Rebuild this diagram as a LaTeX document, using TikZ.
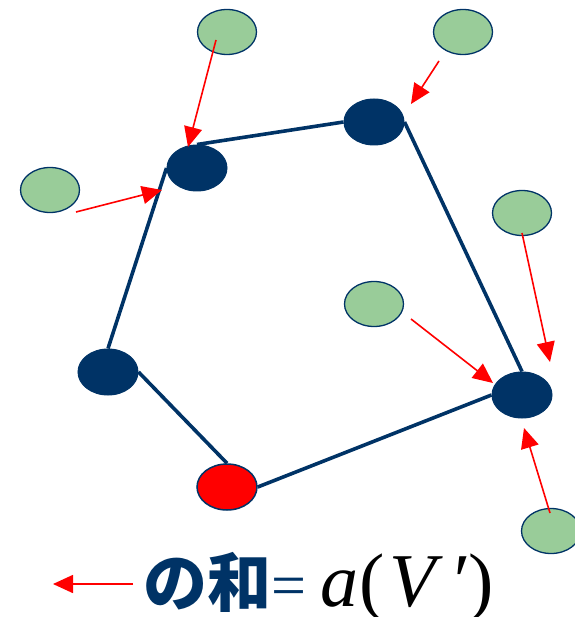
\documentclass[tikz,border=0pt]{standalone}
\usepackage{fontspec}
\setmainfont{Liberation Serif}
\newfontfamily\cjk{Noto Sans CJK JP}
\usepackage{tikz}
\usetikzlibrary{shapes.geometric, arrows.meta, positioning}

\definecolor{navy}{RGB}{0,51,102}
\definecolor{leafgreen}{RGB}{153,204,153}

\begin{document}
\begin{tikzpicture}[
    x=1pt, y=-1pt,
    core/.style={
        ellipse, draw=navy, fill=navy, minimum width=60pt, minimum height=46pt,
        inner sep=0pt, line width=1pt
    },
    root/.style={core, fill=red, line width=1.5pt},
    leaf/.style={
        ellipse, draw=navy, fill=leafgreen, minimum width=59pt, minimum height=45pt,
        inner sep=0pt, line width=1.3pt
    },
    edge/.style={navy, line width=3.6pt},
    feed/.style={red, line width=1.6pt, -{Triangle[length=20pt, width=18pt]}},
]
\useasboundingbox (0,0) rectangle (574,617);

% vertices of the set V'
\node[core] (va) at (197,168) {};
\node[core] (vb) at (374,122) {};
\node[core] (vc) at (522,395) {};
\node[core] (vd) at (108,372) {};
\node[root] (vr) at (227,487) {};

% neighbours outside the set
\node[leaf] (n1) at (227,32)  {};
\node[leaf] (n2) at (463,32)  {};
\node[leaf] (n3) at (50,190)  {};
\node[leaf] (n4) at (522,213) {};
\node[leaf] (n5) at (374,304) {};
\node[leaf] (n6) at (551,531) {};

% cycle through the vertices
\draw[edge] (va.north) -- (vb.west);
\draw[edge] (vb.east) -- (vc.north);
\draw[edge] (vc.west) -- (vr.east);
\draw[edge] (vr.north) -- (vd.east);
\draw[edge] (vd.north) -- (va.west);

% red arrows from the neighbours
\draw[feed] ([shift={(-11,8)}]n1.center)  -- ([shift={(-9,-21)}]va.center);
\draw[feed] ([shift={(-24,29)}]n2.center) -- ([shift={(37,-18)}]vb.center);
\draw[feed] ([shift={(26,22)}]n3.center)  -- ([shift={(-35,22)}]va.center);
\draw[feed] ([shift={(0,20)}]n4.center)   -- ([shift={(28,-33)}]vc.center);
\draw[feed] ([shift={(37,15)}]n5.center)  -- ([shift={(-29,-12)}]vc.center);
\draw[feed] ([shift={(-1,-18)}]n6.center) -- ([shift={(2,33)}]vc.center);

% legend at the bottom
\node[anchor=base west, inner sep=0pt, text=navy, font=\cjk\bfseries\fontsize{64}{66}\selectfont]
    (sum) at (143,606) {の和};
\node[anchor=base west, inner sep=0pt, text=navy, font=\fontsize{62}{64}\selectfont]
    (eq) at (sum.base east) {=};
\node[anchor=base west, inner sep=0pt, font=\fontsize{76}{78}\selectfont]
    (expr) at ([xshift=14pt]eq.base east)
    {\textit{a}\kern1pt(\kern4pt\textit{V}\kern6pt\textit{′}\kern2pt)};
\coordinate (tail) at (133,584);
\coordinate (tip) at (53,584);
\draw[feed] (tail) -- (tip);

\end{tikzpicture}
\end{document}
